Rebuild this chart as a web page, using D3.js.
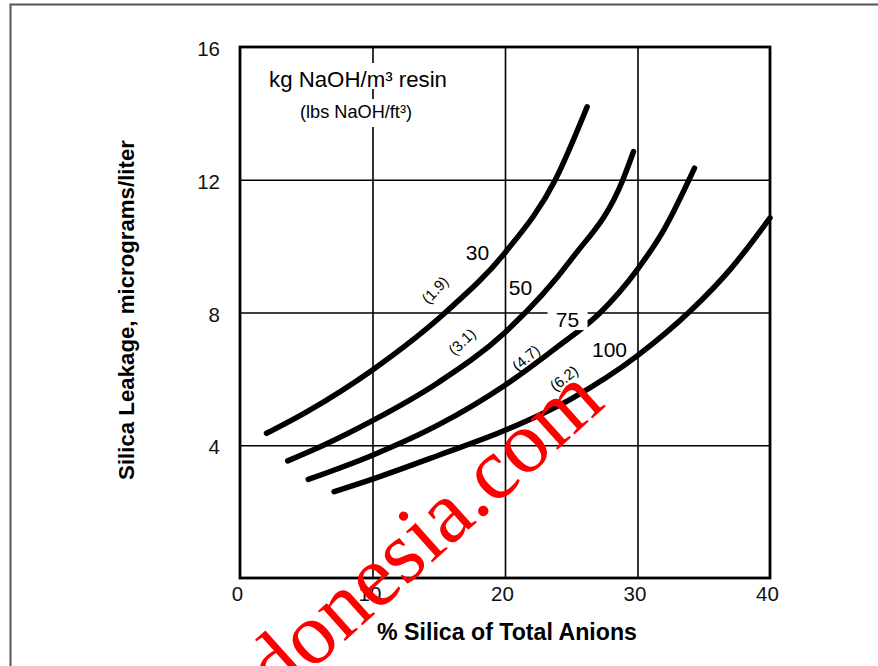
<!DOCTYPE html>
<html>
<head>
<meta charset="utf-8">
<script src="https://cdn.jsdelivr.net/npm/d3@7"></script>
<style>
  html, body { margin: 0; padding: 0; background: #fff; }
  svg { display: block; }
</style>
</head>
<body>
<svg id="chart" width="878" height="666"></svg>
<script>
// ---------- data ----------
const xTicks = [0, 10, 20, 30, 40];
const yTicks = [4, 8, 12, 16];
const loadingKg = ["30", "50", "75", "100"];
const loadingLbs = ["(1.9)", "(3.1)", "(4.7)", "(6.2)"];

const silica30 = [2.0, 5.0, 10, 15.5, 20, 23.8, 26.2];
const leak30   = [4.36, 5.0, 6.27, 8.0, 9.8, 12.0, 14.2];

const silica50 = [3.6, 6.3, 10, 15, 20, 25, 28.9, 29.7];
const leak50   = [3.53, 4.0, 4.74, 5.9, 7.4, 9.6, 12.0, 12.85];

const silica75 = [5.15, 10, 15, 20, 24, 27.2, 30, 32, 34.3];
const leak75   = [2.97, 3.7, 4.62, 5.81, 6.98, 8.0, 9.3, 10.5, 12.35];

const silica100 = [7.1, 10, 15, 20, 25, 30, 34, 37, 40];
const leak100   = [2.6, 2.98, 3.7, 4.45, 5.4, 6.7, 8.05, 9.3, 10.85];

const xTitle = "% Silica of Total Anions";
const yTitle = "Silica Leakage, micrograms/liter";
const legendTitle = "kg NaOH/m³ resin";
const legendSub = "(lbs NaOH/ft³)";
const watermarkA = "donesia";
const watermarkB = ".com";

// ---------- layout ----------
const svg = d3.select("#chart");
const W = 878, H = 666;
const plot = { left: 240, right: 770, top: 47, bottom: 578 };
const x = d3.scaleLinear().domain([0, 40]).range([plot.left, plot.right]);
const y = d3.scaleLinear().domain([0, 16]).range([plot.bottom, plot.top]);
const sans = "'Liberation Sans', Arial, Helvetica, sans-serif";

svg.append("rect").attr("width", W).attr("height", H).attr("fill", "#fff");

// outer page frame (top and left edges visible)
svg.append("path")
  .attr("d", `M10.5,${H} L10.5,4.5 L${W},4.5`)
  .attr("fill", "none").attr("stroke", "#555").attr("stroke-width", 2);

// ---------- grid ----------
const gridX = svg.append("g")
  .attr("transform", `translate(0,${plot.bottom})`)
  .call(d3.axisBottom(x).tickValues([10, 20, 30]).tickSize(-(plot.bottom - plot.top)).tickFormat(""));
const gridY = svg.append("g")
  .attr("transform", `translate(${plot.left},0)`)
  .call(d3.axisLeft(y).tickValues([4, 8, 12]).tickSize(-(plot.right - plot.left)).tickFormat(""));
[gridX, gridY].forEach(g => {
  g.select(".domain").remove();
  g.selectAll("line").attr("stroke", "#000").attr("stroke-width", 1.6);
});

// ---------- tick labels ----------
const axX = svg.append("g")
  .attr("transform", `translate(-3,${plot.bottom})`)
  .call(d3.axisBottom(x).tickValues(xTicks).tickSize(0).tickPadding(8));
const axY = svg.append("g")
  .attr("transform", `translate(${plot.left},2)`)
  .call(d3.axisLeft(y).tickValues(yTicks).tickSize(0).tickPadding(20));
[axX, axY].forEach(g => {
  g.select(".domain").remove();
  g.selectAll("text").attr("font-family", sans).attr("font-size", 20.5).attr("fill", "#111");
});

// ---------- legend header with line gaps ----------
const legendCx = 358;
svg.append("rect").attr("x", 262).attr("y", 63).attr("width", 194).attr("height", 26).attr("fill", "#fff");
svg.append("rect").attr("x", 262).attr("y", 99).attr("width", 194).attr("height", 28).attr("fill", "#fff");

function fit(sel, width) {
  const l = sel.node().getComputedTextLength();
  sel.attr("font-size", parseFloat(sel.attr("font-size")) * width / l);
}
const lt = svg.append("text").attr("x", legendCx).attr("y", 87)
  .attr("text-anchor", "middle").attr("font-family", sans).attr("font-size", 18)
  .attr("fill", "#000").text(legendTitle);
fit(lt, 178);
const ls = svg.append("text").attr("x", 356).attr("y", 118)
  .attr("text-anchor", "middle").attr("font-family", sans).attr("font-size", 13)
  .attr("fill", "#000").text(legendSub);
fit(ls, 112);

// ---------- curves ----------
const series = [
  { xs: silica30, ys: leak30 },
  { xs: silica50, ys: leak50 },
  { xs: silica75, ys: leak75 },
  { xs: silica100, ys: leak100 }
];
const line = d3.line().x(d => x(d[0])).y(d => y(d[1])).curve(d3.curveMonotoneX);
svg.append("g").selectAll("path")
  .data(series)
  .join("path")
  .attr("d", s => line(s.xs.map((v, i) => [v, s.ys[i]])))
  .attr("fill", "none").attr("stroke", "#000")
  .attr("stroke-width", 5.5).attr("stroke-linecap", "round").attr("stroke-linejoin", "round");

// ---------- curve labels ----------
const kgPos = [[17.92, 9.58], [21.17, 8.53], [24.72, 7.56], [27.89, 6.66]];
// gap in y=8 line behind "75"
svg.append("rect").attr("x", x(kgPos[2][0]) - 20).attr("y", y(kgPos[2][1]) - 21)
  .attr("width", 40).attr("height", 24).attr("fill", "#fff");
svg.append("g").selectAll("text")
  .data(loadingKg)
  .join("text")
  .attr("x", (d, i) => x(kgPos[i][0]))
  .attr("y", (d, i) => y(kgPos[i][1]))
  .attr("text-anchor", "middle").attr("font-family", sans).attr("font-size", 21)
  .attr("fill", "#000").text(d => d);

const lbPos = [[14.72, 8.68], [16.75, 7.12], [21.58, 6.63], [24.45, 6.02]];
const lbAng = [-47, -43, -41, -38];
svg.append("g").selectAll("text")
  .data(loadingLbs)
  .join("text")
  .attr("transform", (d, i) => `translate(${x(lbPos[i][0])},${y(lbPos[i][1])}) rotate(${lbAng[i]})`)
  .attr("text-anchor", "middle").attr("dy", "0.35em")
  .attr("font-family", sans).attr("font-size", 15)
  .attr("fill", "#000").text(d => d);

// ---------- plot frame ----------
svg.append("rect")
  .attr("x", plot.left).attr("y", plot.top)
  .attr("width", plot.right - plot.left).attr("height", plot.bottom - plot.top)
  .attr("fill", "none").attr("stroke", "#000").attr("stroke-width", 2.8);

// ---------- axis titles ----------
const xt = svg.append("text").attr("x", 507).attr("y", 640)
  .attr("text-anchor", "middle").attr("font-family", sans).attr("font-weight", "bold")
  .attr("font-size", 20).attr("fill", "#000").text(xTitle);
fit(xt, 260);
const yt = svg.append("text")
  .attr("transform", `translate(134,310) rotate(-90)`)
  .attr("text-anchor", "middle").attr("font-family", sans).attr("font-weight", "bold")
  .attr("font-size", 19).attr("fill", "#000").text(yTitle);
fit(yt, 340);

// ---------- watermark ----------
const fs = 88;
const wm = svg.append("g").attr("transform", `translate(486,514) rotate(-42)`)
  .attr("font-family", "'Liberation Serif', 'Times New Roman', serif")
  .attr("font-size", fs).attr("fill", "#ff0000");
wm.append("text").attr("x", -0.125 * fs).attr("text-anchor", "end").text(watermarkA);
wm.append("text").attr("x", -0.125 * fs).text(watermarkB);
</script>
</body>
</html>
